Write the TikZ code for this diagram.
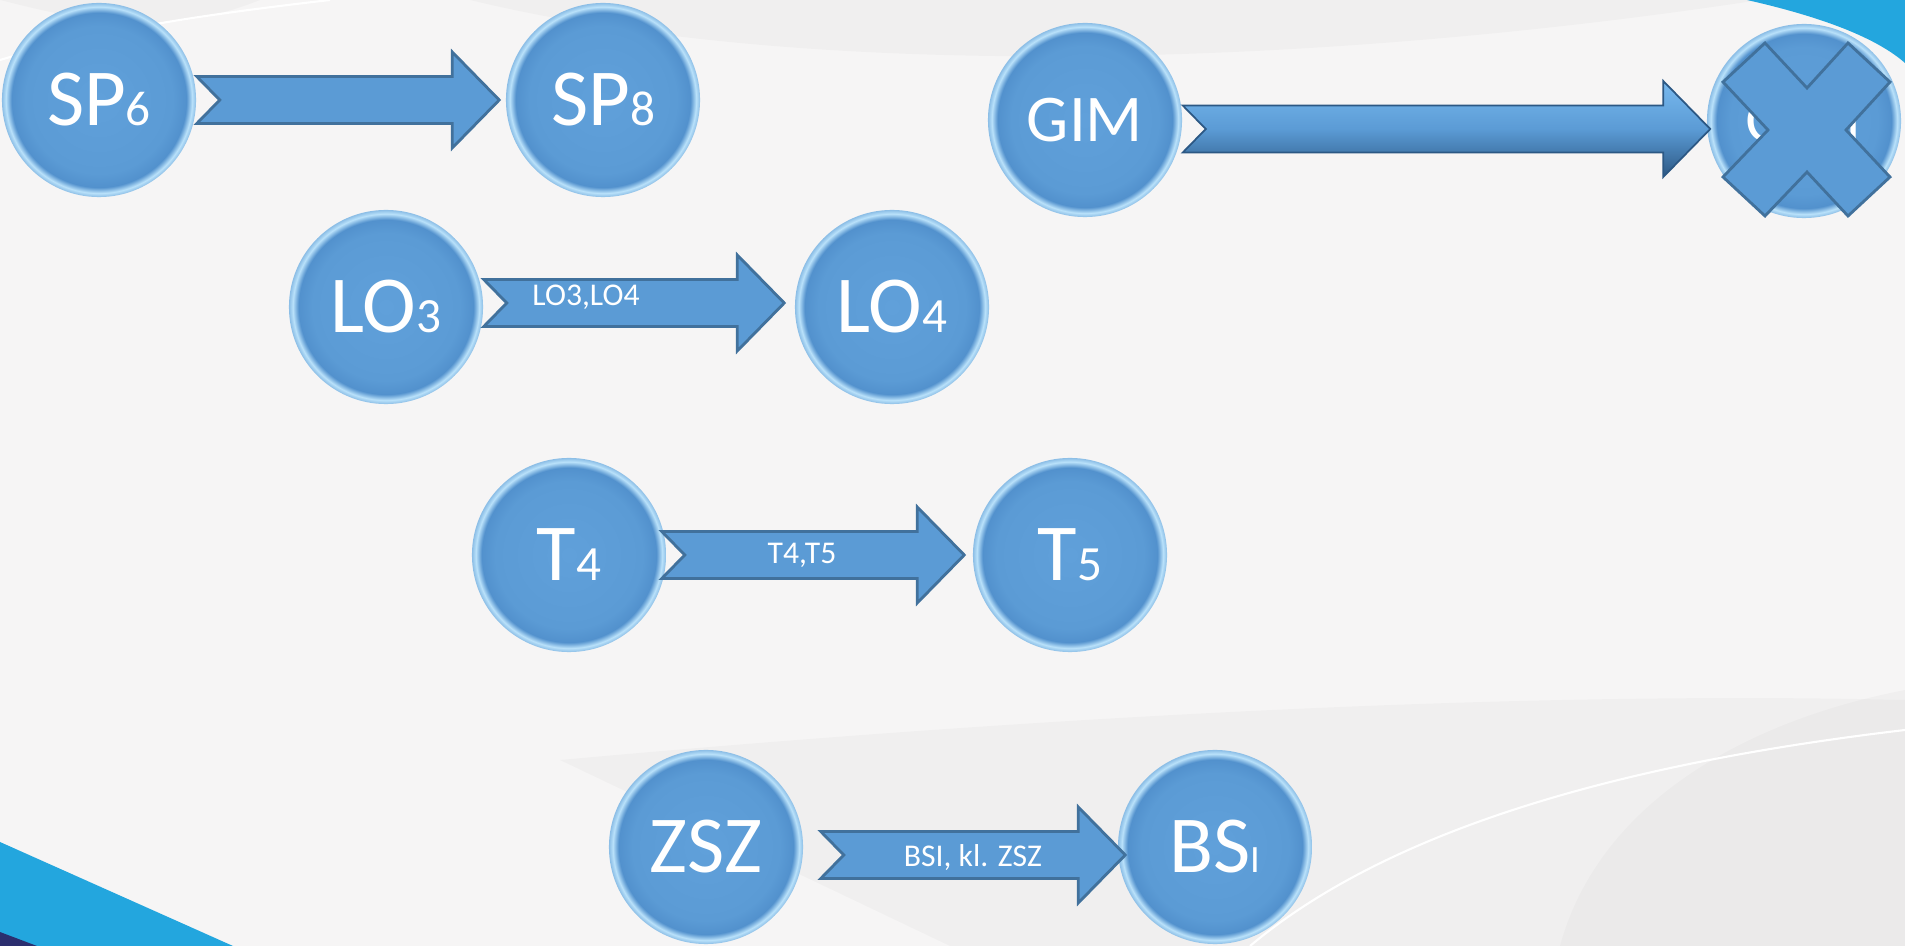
\documentclass[tikz,border=0pt]{standalone}
\usepackage{fontspec}
\setmainfont{Carlito}
\usetikzlibrary{calc}

\definecolor{nodeblue}{RGB}{91,155,213}
\definecolor{nodecore}{RGB}{96,160,218}
\definecolor{nodedeep}{RGB}{82,145,205}
\definecolor{rimblue}{RGB}{185,225,250}
\definecolor{rimout}{RGB}{140,190,230}
\definecolor{edgeblue}{RGB}{65,113,156}
\definecolor{arrowlight}{RGB}{120,185,238}
\definecolor{arrowdark}{RGB}{44,88,132}
\definecolor{cornerblue}{RGB}{35,166,222}
\definecolor{navy}{RGB}{43,46,110}
\definecolor{pagebg}{RGB}{246,245,245}

\pgfdeclareradialshading{ballshade}{\pgfpoint{0bp}{0bp}}{%
  color(0bp)=(nodecore); color(19bp)=(nodeblue); color(22.5bp)=(nodedeep);
  color(24bp)=(rimblue); color(25bp)=(rimout); color(50bp)=(rimout)}

\newcommand{\smalldigit}[1]{{\fontsize{14pt}{14pt}\selectfont #1}}

% notched block arrow from one node to the next, midpoint kept as a coordinate
\newcommand{\flowarrow}[7][]{%
  \path[arrowbody,#1] let \p1=($(#2.east)+(#4,#6)$), \p2=($(#3.west)+(#5,#6)$) in
    (\x1,\y1+2.35mm) -- (\x2-4.7mm,\y1+2.35mm) -- (\x2-4.7mm,\y1+4.8mm) -- (\x2,\y1)
    -- (\x2-4.7mm,\y1-4.8mm) -- (\x2-4.7mm,\y1-2.35mm) -- (\x1,\y1-2.35mm)
    -- (\x1+2.3mm,\y1) -- cycle
    ($(\p1)!0.5!(\p2)$) coordinate (#7);}

\begin{document}
\begin{tikzpicture}[x=0.01cm, y=-0.01cm,
    ballnode/.style={circle, minimum size=1.94cm, inner sep=0pt, shading=ballshade,
      text=white, font=\fontsize{23pt}{23pt}\selectfont},
    arrowbody/.style={fill=nodeblue, draw=edgeblue, line width=0.8pt, line join=miter},
    bevelbody/.style={top color=arrowlight, bottom color=arrowdark, middle color=nodeblue,
      draw=arrowdark, line width=0.5pt},
    arrowlabel/.style={text=white, font=\fontsize{9pt}{9pt}\selectfont, inner sep=0pt},
    swoosh/.style={fill=gray, opacity=0.045}]
    \useasboundingbox (0,0) rectangle (1905,946);

    % Background
    \fill[pagebg] (0,0) rectangle (1905,946);
    \fill[swoosh] (470,0) .. controls (800,80) and (1300,70) .. (1760,0) -- cycle;
    \fill[swoosh] (0,0) .. controls (80,20) and (160,40) .. (260,0) -- cycle;
    \fill[swoosh] (560,760) .. controls (1000,720) and (1500,690) .. (1905,700)
        -- (1905,946) -- (950,946) -- cycle;
    \fill[swoosh] (1560,946) .. controls (1600,800) and (1750,720) .. (1905,690)
        -- (1905,946) -- cycle;
    \draw[white, line width=0.6pt] (0,60) .. controls (100,30) and (200,15) .. (330,0);
    \draw[white, line width=0.6pt] (1250,946) .. controls (1400,820) and (1650,760) .. (1905,730);
    \fill[cornerblue] (1747,0) .. controls (1800,12) and (1870,32) .. (1905,63) -- (1905,0) -- cycle;
    \fill[cornerblue] (0,842) -- (233,946) -- (0,946) -- cycle;
    \fill[navy] (0,932) -- (37,946) -- (0,946) -- cycle;

    % Circles
    \node[ballnode] (sp6) at (99,100) {SP\smalldigit{6}};
    \node[ballnode] (sp8) at (603,100) {SP\smalldigit{8}};
    \node[ballnode, font=\fontsize{19pt}{19pt}\selectfont] (gim) at (1085,120) {GIM};
    \node[ballnode, font=\fontsize{19pt}{19pt}\selectfont] (gimx) at (1804,121) {GIM};
    \node[ballnode] (lo3) at (386,307) {LO\smalldigit{3}};
    \node[ballnode] (lo4) at (892,307) {LO\smalldigit{4}};
    \node[ballnode] (t4) at (569,555) {T\smalldigit{4}};
    \node[ballnode] (t5) at (1070,555) {T\smalldigit{5}};
    \node[ballnode] (zsz) at (706,847) {ZSZ};
    \node[ballnode] (bsi) at (1215,847) {BS{\fontsize{11pt}{11pt}\selectfont I}};

    % Arrows
    \flowarrow{sp6}{sp8}{0}{-6}{0}{spmid}
    \flowarrow[bevelbody]{gim}{gimx}{0}{4}{9}{gimmid}
    \flowarrow{lo3}{lo4}{0}{-10}{-4}{lomid}
    \flowarrow{t4}{t5}{-5}{-8}{0}{tmid}
    \flowarrow{zsz}{bsi}{17}{8}{8}{zszmid}

    % Arrow labels
    \node[arrowlabel] (lolabel) at ($(lomid)+(-48,-6)$) {LO3,LO4};
    \node[arrowlabel] (tlabel) at ($(tmid)+(-11,0)$) {T4,T5};
    \node[arrowlabel] (zszlabel) at ($(zszmid)+(0,3)$) {BSI, kl. ZSZ};

    % Cross over the last circle
    \begin{scope}[shift={(gimx.center)}, shift={(3,9)}]
        \filldraw[fill=nodeblue, draw=edgeblue, line width=0.8pt, line join=miter]
            (-84,-48) -- (-42,-87) -- (0,-42) -- (41,-87) -- (83,-48) -- (39,0)
            -- (83,47) -- (41,86) -- (0,42) -- (-42,86) -- (-84,47) -- (-39,0) -- cycle;
    \end{scope}
\end{tikzpicture}
\end{document}
